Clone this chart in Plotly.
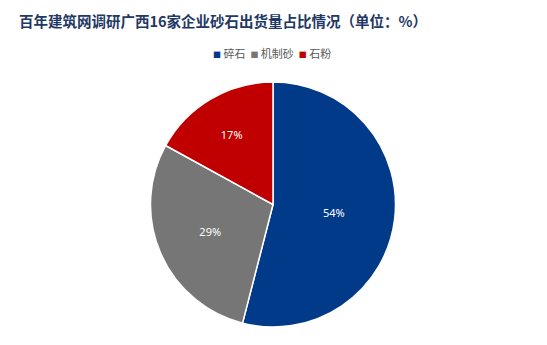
import plotly.graph_objects as go

labels = ["碎石", "机制砂", "石粉"]
values = [54, 29, 17]
text_labels = ["54%", "29%", "17%"]
colors = ["#023A8A", "#767676", "#C00000"]

W, H = 547, 345

fig = go.Figure(go.Pie(
    labels=labels,
    values=values,
    text=text_labels,
    textinfo="text",
    textposition="inside",
    insidetextorientation="horizontal",
    textfont=dict(family="Noto Sans, Open Sans, sans-serif", size=11, color="white"),
    marker=dict(colors=colors, line=dict(color="white", width=1.5)),
    sort=False,
    direction="clockwise",
    rotation=0,
    domain=dict(x=[150 / W, 396 / W], y=[(H - 327) / H, (H - 82) / H]),
    hoverinfo="label+percent",
))

# compact legend built from the series names and colours
legend_parts = []
for lab, col in zip(labels, colors):
    legend_parts.append(
        f"<span style='color:{col};font-size:8px'>■</span> {lab}"
    )
legend_text = "  ".join(legend_parts)

fig.update_layout(
    width=W, height=H,
    margin=dict(l=0, r=0, t=0, b=0),
    paper_bgcolor="white",
    plot_bgcolor="white",
    title=dict(
        text="<b>百年建筑网调研广西16家企业砂石出货量占比情况（单位：%）</b>",
        font=dict(family="Noto Sans CJK SC", size=14.5, color="#1F3864"),
        x=19 / W, xanchor="left",
        y=1 - 22 / H, yanchor="middle",
    ),
    showlegend=False,
    annotations=[dict(
        text=legend_text,
        x=272 / W, xanchor="center",
        y=1 - 53 / H, yanchor="middle",
        xref="paper", yref="paper",
        showarrow=False,
        font=dict(family="Noto Sans CJK SC", size=11, color="#595959"),
    )],
)

fig.write_html("out.html")
